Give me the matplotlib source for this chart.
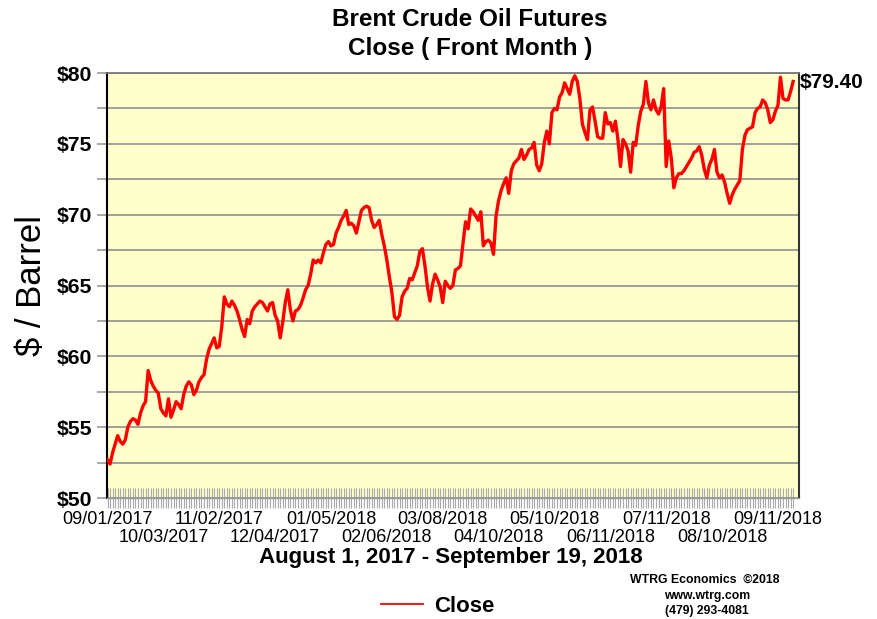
import matplotlib
matplotlib.use("Agg")
import matplotlib.pyplot as plt
from matplotlib.lines import Line2D
import numpy as np

# ---- data (daily front-month Brent closes) ----
prices = [
    52.7, 52.4, 53.2, 53.8, 54.4, 54.0, 53.8, 54.1, 55.0, 55.4,
    55.6, 55.5, 55.2, 56.0, 56.5, 56.8, 59.0, 58.3, 57.9, 57.6,
    57.4, 56.3, 56.0, 55.8, 57.0, 55.7, 56.2, 56.8, 56.6, 56.3,
    57.3, 57.9, 58.2, 58.0, 57.3, 57.6, 58.2, 58.5, 58.7, 59.8,
    60.5, 60.9, 61.3, 60.6, 60.7, 62.1, 64.2, 63.7, 63.5, 63.9,
    63.6, 63.2, 62.6, 61.9, 61.4, 62.6, 62.3, 63.2, 63.5, 63.7,
    63.9, 63.8, 63.5, 63.2, 63.7, 63.8, 62.9, 62.5, 61.3, 62.4,
    63.8, 64.7, 63.3, 62.5, 63.2, 63.3, 63.6, 64.1, 64.7, 65.0,
    65.8, 66.8, 66.6, 66.8, 66.6, 67.3, 67.9, 68.1, 67.8, 67.9,
    68.7, 69.1, 69.6, 69.9, 70.3, 69.3, 69.4, 69.2, 68.7, 69.5,
    70.3, 70.5, 70.6, 70.5, 69.6, 69.1, 69.3, 69.6, 68.6, 67.8,
    66.8, 65.6, 64.5, 62.8, 62.6, 62.9, 64.2, 64.6, 64.8, 65.5,
    65.4, 65.9, 66.4, 67.4, 67.6, 66.4, 64.9, 63.9, 65.1, 65.8,
    65.4, 64.9, 63.8, 65.3, 65.0, 64.8, 65.0, 66.1, 66.2, 66.4,
    68.0, 69.5, 69.0, 70.4, 70.2, 69.9, 69.6, 70.2, 67.8, 68.1,
    68.2, 68.0, 67.2, 69.9, 71.0, 71.7, 72.2, 72.6, 71.5, 73.1,
    73.6, 73.8, 74.0, 74.6, 73.9, 74.2, 74.6, 74.7, 75.1, 73.5,
    73.1, 73.6, 75.1, 75.9, 75.0, 77.2, 77.5, 77.4, 78.3, 78.6,
    79.3, 78.9, 78.5, 79.4, 79.8, 79.4, 78.2, 76.4, 75.8, 75.3,
    77.4, 77.6, 76.6, 75.5, 75.4, 75.4, 77.2, 76.4, 76.5, 75.9,
    76.6, 75.3, 73.4, 75.3, 75.0, 74.5, 73.0, 75.1, 74.9, 76.3,
    77.3, 77.8, 79.4, 77.9, 77.4, 78.1, 77.4, 77.1, 77.6, 78.9,
    73.4, 75.2, 74.0, 71.9, 72.6, 72.9, 72.9, 73.1, 73.4, 73.7,
    74.0, 74.4, 74.5, 74.8, 74.2, 73.2, 72.6, 73.5, 73.9, 74.6,
    73.0, 72.6, 72.8, 72.3, 71.5, 70.8, 71.4, 71.8, 72.1, 72.4,
    74.6, 75.6, 76.0, 76.1, 76.2, 77.2, 77.5, 77.6, 78.1, 77.9,
    77.4, 76.5, 76.7, 77.3, 77.7, 79.7, 78.2, 78.1, 78.1, 78.7,
    79.4,
]
tick_labels = ["09/01/2017", "10/03/2017", "11/02/2017", "12/04/2017",
               "01/05/2018", "02/06/2018", "03/08/2018", "04/10/2018",
               "05/10/2018", "06/11/2018", "07/11/2018", "08/10/2018",
               "09/11/2018"]
label_step = 22
y_ticks = [50, 55, 60, 65, 70, 75, 80]
last_label = "$79.40"

FONT = ["Liberation Sans", "DejaVu Sans"]
plt.rcParams["font.family"] = FONT

fig = plt.figure(figsize=(8.78, 6.19), dpi=100)
ax = fig.add_axes([107/878, 1 - 498/619, (799 - 107)/878, (498 - 73)/619])
ax.set_facecolor("#FFFFCC")

x = np.arange(len(prices))
ax.plot(x, prices, color="#FF0000", lw=2.4, solid_joinstyle="round", zorder=3)

ax.set_xlim(-0.2, 272.3)
ax.set_ylim(50, 80)

# y axis
ax.set_yticks(y_ticks)
ax.set_yticklabels([f"${v}" for v in y_ticks], fontsize=15.3, fontweight="bold")
ax.set_yticks(np.arange(50, 80.1, 2.5), minor=True)
ax.yaxis.grid(True, which="both", color="#999999", lw=1.3, zorder=1)
ax.tick_params(axis="y", which="both", length=7, width=1.2, color="#999999", pad=4)

# x axis
maj = list(range(0, label_step * len(tick_labels), label_step))
ax.set_xticks(maj)
ax.set_xticklabels(tick_labels, fontsize=13)
ax.set_xticks(x, minor=True)
ax.tick_params(axis="x", which="both", direction="inout", length=14, width=0.8,
               color="#AAAAAA", pad=2)
for k, t in enumerate(ax.xaxis.get_major_ticks()):
    t.set_pad(2 if k % 2 == 0 else 15)

ax.spines["left"].set_color("black")
ax.spines["left"].set_linewidth(1.5)
ax.spines["right"].set_color("#333333")
ax.spines["right"].set_linewidth(1.5)
ax.spines["top"].set_color("#777777")
ax.spines["top"].set_linewidth(1.3)
ax.spines["bottom"].set_color("#999999")
ax.spines["bottom"].set_linewidth(1.0)

ax.set_ylabel("$ / Barrel", fontsize=25, labelpad=6)

# texts
fig.text(470/878, 1 - 19/619, "Brent Crude Oil Futures", ha="center", va="center",
         fontsize=17.5, fontweight="bold")
fig.text(470/878, 1 - 48/619, "Close ( Front Month )", ha="center", va="center",
         fontsize=17.5, fontweight="bold")
ax.annotate(last_label, xy=(x[-1], prices[-1]), xycoords="data",
            xytext=(800/878, 1 - 82/619), textcoords="figure fraction",
            ha="left", va="center", fontsize=15, fontweight="bold")
fig.text(451/878, 1 - 557/619, "August 1, 2017 - September 19, 2018", ha="center",
         va="center", fontsize=16, fontweight="bold")
fig.text(705/878, 1 - 580/619, "WTRG Economics  \u00a92018", ha="center", va="center",
         fontsize=8.8, fontweight="bold")
fig.text(707/878, 1 - 596/619, "www.wtrg.com", ha="center", va="center",
         fontsize=8.8, fontweight="bold")
fig.text(707/878, 1 - 611/619, "(479) 293-4081", ha="center", va="center",
         fontsize=8.8, fontweight="bold")
fig.add_artist(Line2D([381/878, 423/878], [1 - 604/619, 1 - 604/619],
                      color="#FF0000", lw=1.3))
fig.text(434/878, 1 - 606/619, "Close", ha="left", va="center",
         fontsize=16, fontweight="bold")

fig.savefig("out.png", dpi=100, facecolor="white")
